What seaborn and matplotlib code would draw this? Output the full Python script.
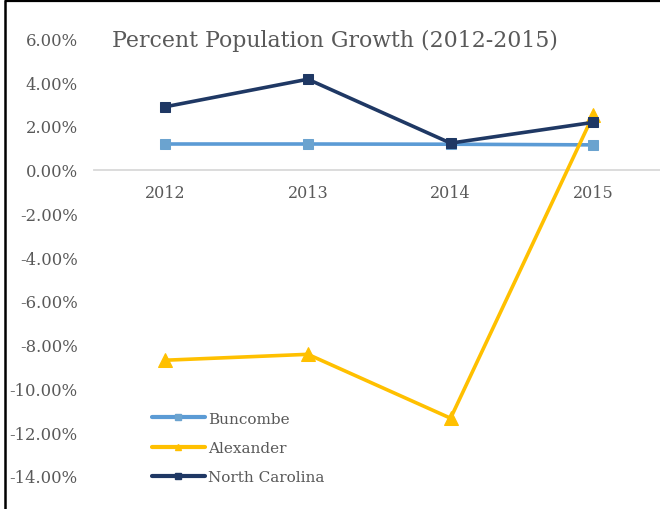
import matplotlib
matplotlib.use("Agg")
import matplotlib.pyplot as plt
import seaborn as sns
import pandas as pd
from matplotlib.lines import Line2D
from matplotlib.ticker import FuncFormatter

years = ["2012", "2013", "2014", "2015"]
buncombe = [1.17, 1.17, 1.16, 1.13]
alexander = [-8.71, -8.44, -11.36, 2.5]
north_carolina = [2.87, 4.13, 1.21, 2.16]
series_names = ["Buncombe", "Alexander", "North Carolina"]
y_ticks = [6, 4, 2, 0, -2, -4, -6, -8, -10, -12, -14]

colors = {"Buncombe": "#5B9BD5", "Alexander": "#FFC000", "North Carolina": "#1F3864"}
marker_map = {"Buncombe": "s", "Alexander": "^", "North Carolina": "s"}
msize = {"Buncombe": 7.8, "Alexander": 10.5, "North Carolina": 7.8}
mcolor = {"Buncombe": "#6BA3CF", "Alexander": "#FFC000", "North Carolina": "#1F3864"}

rows = []
for name, vals in zip(series_names, [buncombe, alexander, north_carolina]):
    for i, (yr, v) in enumerate(zip(years, vals)):
        rows.append({"series": name, "pos": i, "year": yr, "value": v})
df = pd.DataFrame(rows)

sns.set_theme(style="white")
plt.rcParams["font.family"] = ["DejaVu Serif"]
text_color = "#595959"

fig = plt.figure(figsize=(6.6, 5.1), dpi=100)
ax = fig.add_axes([93.7 / 660, 33 / 510, 571 / 660, 437.7 / 510])

for name in series_names:
    sub = df[df["series"] == name]
    sns.lineplot(data=sub, x="pos", y="value", ax=ax, color=colors[name],
                 linewidth=2.6, marker=marker_map[name], markersize=msize[name],
                 markerfacecolor=mcolor[name], markeredgecolor=mcolor[name],
                 legend=False, zorder=3)

ax.set_xlim(-0.5, 3.5)
ax.set_ylim(-14, 6)
ax.set_xticks(range(len(years)))
ax.set_xticklabels(years)
ax.set_yticks(y_ticks)
ax.yaxis.set_major_formatter(FuncFormatter(lambda v, p: f"{v:.2f}%"))
ax.set_xlabel("")
ax.set_ylabel("")
for s in ["top", "right", "left"]:
    ax.spines[s].set_visible(False)
ax.spines["bottom"].set_position(("data", 0))
ax.spines["bottom"].set_color("#D9D9D9")
ax.spines["bottom"].set_linewidth(1.3)
ax.spines["bottom"].set_zorder(1)
ax.tick_params(axis="x", length=0, pad=10.5, labelsize=11.5, labelcolor=text_color)
ax.tick_params(axis="y", length=0, pad=11.5, labelsize=11.8, labelcolor=text_color)
ax.grid(False)

handles = [Line2D([0], [0], color=colors[n], linewidth=3.0, marker=marker_map[n],
                  markersize=4.5 if n != "Alexander" else 5,
                  markerfacecolor=mcolor[n], markeredgecolor=mcolor[n])
           for n in series_names]
leg = ax.legend(handles, series_names, loc="upper left",
                bbox_to_anchor=(138 / 660, (510 - 399) / 510), bbox_transform=fig.transFigure,
                frameon=False, handlelength=3.5, handletextpad=0.2,
                labelspacing=1.0, fontsize=11)
for t in leg.get_texts():
    t.set_color(text_color)

fig.text(335 / 660, 1 - 47 / 510, "Percent Population Growth (2012-2015)",
         ha="center", va="baseline", fontsize=15.8, color=text_color)

fig.add_artist(Line2D([4.5 / 660, 4.5 / 660], [0, 1 - 2 / 510],
                      transform=fig.transFigure, color="black", linewidth=1.8,
                      solid_capstyle="projecting"))
fig.add_artist(Line2D([4.5 / 660, 1.0], [1 - 2 / 510, 1 - 2 / 510],
                      transform=fig.transFigure, color="black", linewidth=1.6,
                      solid_capstyle="butt"))

fig.savefig("out.png", dpi=100)
